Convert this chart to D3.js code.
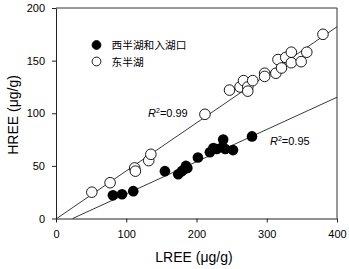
<!DOCTYPE html>
<html>
<head>
<meta charset="utf-8">
<script src="https://cdn.jsdelivr.net/npm/d3@7"></script>
<style>
  body { margin: 0; background: #fff; }
  svg { display: block; font-family: Arial, "Liberation Sans", sans-serif; }
  .axis text { font-size: 11px; fill: #000; }
  .axis path, .axis line { stroke: #222; }
</style>
</head>
<body>
<svg width="349" height="269"></svg>
<script>
(function(d3) {
  'use strict';

  // 东半湖 (open circles)
  const eastX = [51, 77, 112, 113, 132, 135, 212, 247, 262, 267, 273, 273, 280,
    297, 297, 313, 316, 321, 327, 335, 335, 349, 357, 380];
  const eastY = [25, 34, 48, 45, 55, 61, 99, 122, 125, 131, 125, 121, 131,
    138, 135, 138, 151, 143, 153, 158, 148, 149, 158, 175];

  // 西半湖和入湖口 (filled circles)
  const westX = [81, 94, 110, 155, 174, 179, 183, 187, 185, 202, 219, 224, 229,
    238, 237, 241, 252, 279];
  const westY = [22, 23, 26, 45, 42, 45, 47, 48, 50, 58, 63, 67, 66,
    75, 68, 66, 65, 78];

  // fitted lines, end points in data units
  const eastLineX = [1, 400];
  const eastLineY = [0, 182.2];
  const westLineX = [23.7, 400];
  const westLineY = [0, 115.2];

  const seriesNames = ['西半湖和入湖口', '东半湖'];
  const r2Labels = ['0.99', '0.95'];
  const xTicks = [0, 100, 200, 300, 400];
  const yTicks = [0, 50, 100, 150, 200];

  const svg = d3.select('svg');
  const width = +svg.attr('width');
  const height = +svg.attr('height');
  const margin = {top: 8, right: 12, bottom: 50.5, left: 56};
  const innerWidth = width - margin.left - margin.right;
  const innerHeight = height - margin.top - margin.bottom;

  const g = svg.append('g')
      .attr('transform', `translate(${margin.left},${margin.top})`);

  const xScale = d3.scaleLinear().domain([0, 400]).range([0, innerWidth]);
  const yScale = d3.scaleLinear().domain([0, 200]).range([innerHeight, 0]);

  // frame (top and right)
  g.append('path')
      .attr('d', `M0,0H${innerWidth}V${innerHeight}`)
      .attr('fill', 'none')
      .attr('stroke', '#333');

  g.append('g').attr('class', 'axis')
      .attr('transform', `translate(0,${innerHeight})`)
      .call(d3.axisBottom(xScale).tickValues(xTicks).tickSize(4)
          .tickPadding(8).tickSizeOuter(0));

  g.append('g').attr('class', 'axis')
      .call(d3.axisLeft(yScale).tickValues(yTicks).tickSize(4)
          .tickPadding(7).tickSizeOuter(0));

  // axis titles
  svg.append('text')
      .attr('x', 194).attr('y', 262)
      .attr('text-anchor', 'middle')
      .attr('font-size', 14)
      .text('LREE (μg/g)');
  svg.append('text')
      .attr('transform', 'translate(18.3,115) rotate(-90)')
      .attr('text-anchor', 'middle')
      .attr('font-size', 14)
      .text('HREE (μg/g)');

  // regression lines
  const line = d3.line().x((d) => xScale(d[0])).y((d) => yScale(d[1]));
  [[eastLineX, eastLineY], [westLineX, westLineY]].forEach(function(l) {
    g.append('path')
        .datum(d3.zip(l[0], l[1]))
        .attr('d', line)
        .attr('fill', 'none')
        .attr('stroke', '#222')
        .attr('stroke-width', 0.9);
  });

  // points
  g.append('g').selectAll('circle')
      .data(d3.zip(eastX, eastY))
      .join('circle')
      .attr('cx', (d) => xScale(d[0]))
      .attr('cy', (d) => yScale(d[1]))
      .attr('r', 5.3)
      .attr('fill', '#fff')
      .attr('stroke', '#000')
      .attr('stroke-width', 0.9);

  g.append('g').selectAll('circle')
      .data(d3.zip(westX, westY))
      .join('circle')
      .attr('cx', (d) => xScale(d[0]))
      .attr('cy', (d) => yScale(d[1]))
      .attr('r', 5.3)
      .attr('fill', '#000');

  // R² labels
  const r2Pos = [[131, 96.4], [304.6, 69.4]];
  r2Labels.forEach(function(v, i) {
    const t = g.append('text')
        .attr('x', xScale(r2Pos[i][0]))
        .attr('y', yScale(r2Pos[i][1]))
        .attr('font-size', 11);
    t.append('tspan').attr('font-style', 'italic').text('R');
    t.append('tspan').attr('font-size', 7).attr('dy', -4).text('2');
    t.append('tspan').attr('dy', 4).text('=' + v);
  });

  // legend
  const legend = svg.append('g').attr('transform', 'translate(96.5,45)');
  seriesNames.forEach(function(name, i) {
    const row = legend.append('g').attr('transform', `translate(0,${i * 16.5})`);
    row.append('circle')
        .attr('r', 4.4)
        .attr('fill', i === 0 ? '#000' : '#fff')
        .attr('stroke', '#000')
        .attr('stroke-width', 0.9);
    row.append('text')
        .attr('x', 15).attr('y', 4)
        .attr('font-size', 10.7)
        .attr('font-family', '"Noto Sans CJK SC", sans-serif')
        .text(name);
  });
}(d3));
</script>
</body>
</html>
